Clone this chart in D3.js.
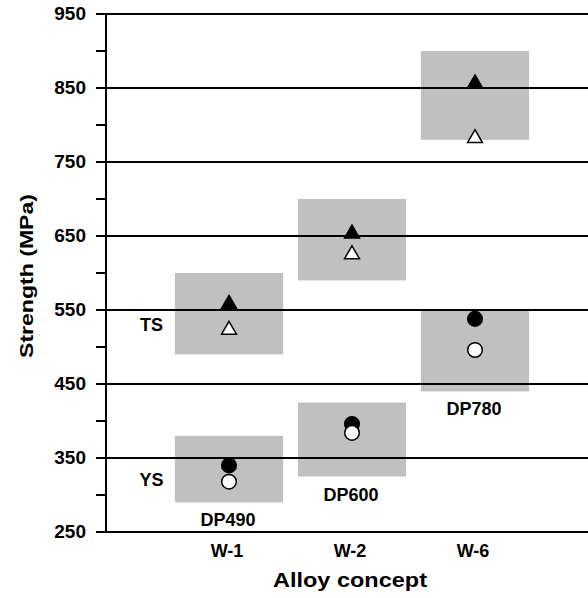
<!DOCTYPE html>
<html>
<head>
<meta charset="utf-8">
<style>
body { margin: 0; background: #fff; }
text { font-family: "Liberation Sans", Arial, sans-serif; font-weight: bold; fill: #000; }
line { shape-rendering: crispEdges; }
</style>
</head>
<body>
<div id="graphic"></div>
<script src="https://cdn.jsdelivr.net/npm/d3@7"></script>
<script>
var alloys = ["W-1", "W-2", "W-6"];
var grades = ["DP490", "DP600", "DP780"];
// grade windows (MPa)
var ysMin = [290, 325, 440];
var ysMax = [380, 425, 550];
var tsMin = [490, 590, 780];
var tsMax = [600, 700, 900];
// measured values
var tsFilled = [561, 656, 859];
var tsOpen = [526, 628, 785];
var ysFilled = [340, 396, 538];
var ysOpen = [318, 384, 496];
var yTicks = [250, 350, 450, 550, 650, 750, 850, 950];
var gridVals = [350, 450, 550, 650, 750, 850, 950];

var width = 588, height = 598;

var svg = d3.select("#graphic").append("svg")
	.attr("width", width)
	.attr("height", height);

var x = d3.scaleLinear().domain([0, 4]).range([106, 598]);
var y = d3.scaleLinear().domain([250, 950]).range([532, 14]);

var boxHalf = 0.44;

function boxes(mins, maxs) {
	svg.append("g").selectAll("rect")
		.data(alloys)
		.enter().append("rect")
		.attr("x", function(d, i) { return x(i + 1 - boxHalf); })
		.attr("width", x(1 + boxHalf) - x(1 - boxHalf))
		.attr("y", function(d, i) { return y(maxs[i]); })
		.attr("height", function(d, i) { return y(mins[i]) - y(maxs[i]); })
		.attr("fill", "#c0c0c0");
}
boxes(ysMin, ysMax);
boxes(tsMin, tsMax);

// gridlines
svg.append("g").selectAll("line")
	.data(gridVals)
	.enter().append("line")
	.attr("x1", x(0)).attr("x2", width)
	.attr("y1", function(d) { return Math.round(y(d)); })
	.attr("y2", function(d) { return Math.round(y(d)); })
	.attr("stroke", "#000")
	.attr("stroke-width", 2);

// y axis
var yAxis = d3.axisLeft(y)
	.tickValues(d3.range(250, 951, 50))
	.tickSize(10)
	.tickFormat(function(d) { return yTicks.indexOf(d) >= 0 ? d : ""; });

var ya = svg.append("g")
	.attr("transform", "translate(" + x(0) + ",0)")
	.call(yAxis);
ya.select(".domain").remove();
ya.selectAll(".tick").attr("transform", function(d) { return "translate(0," + Math.round(y(d)) + ")"; });
ya.selectAll(".tick line").attr("stroke", "#000").attr("stroke-width", 2);
ya.selectAll(".tick text")
	.attr("x", -20)
	.style("font-size", "19px")
	.style("font-family", "Liberation Sans, Arial, sans-serif")
	.style("font-weight", "bold");

svg.append("line")
	.attr("x1", x(0)).attr("x2", x(0))
	.attr("y1", y(950) - 1).attr("y2", y(250) + 1)
	.attr("stroke", "#000").attr("stroke-width", 2);

svg.append("line")
	.attr("x1", x(0) - 10).attr("x2", width)
	.attr("y1", Math.round(y(250))).attr("y2", Math.round(y(250)))
	.attr("stroke", "#000").attr("stroke-width", 2);

// markers
var tri = d3.symbol().type(d3.symbolTriangle).size(96);
var triShift = Math.sqrt(96 / (Math.sqrt(3) * 3)) / 2;

function triangles(vals, fill) {
	svg.append("g").selectAll("path")
		.data(vals)
		.enter().append("path")
		.attr("d", tri)
		.attr("transform", function(d, i) { return "translate(" + x(i + 1) + "," + (y(d) + triShift) + ")"; })
		.attr("fill", fill)
		.attr("stroke", "#000")
		.attr("stroke-width", 1.5);
}

function circles(vals, fill) {
	svg.append("g").selectAll("circle")
		.data(vals)
		.enter().append("circle")
		.attr("cx", function(d, i) { return x(i + 1); })
		.attr("cy", function(d) { return y(d); })
		.attr("r", 7.3)
		.attr("fill", fill)
		.attr("stroke", "#000")
		.attr("stroke-width", 1.5);
}

triangles(tsOpen, "#fff");
triangles(tsFilled, "#000");
circles(ysFilled, "#000");
circles(ysOpen, "#fff");

// grade labels under each box
svg.append("g").selectAll("text")
	.data(grades)
	.enter().append("text")
	.attr("x", function(d, i) { return x(i + 1) - 1; })
	.attr("y", function(d, i) { return y(ysMin[i]) + 24; })
	.attr("text-anchor", "middle")
	.style("font-size", "18px")
	.text(function(d) { return d; });

svg.append("text")
	.attr("x", x(0.37)).attr("y", y(522))
	.attr("text-anchor", "middle")
	.style("font-size", "18px")
	.text("TS");

svg.append("text")
	.attr("x", x(0.37)).attr("y", y(312))
	.attr("text-anchor", "middle")
	.style("font-size", "18px")
	.text("YS");

// category labels
svg.append("g").selectAll("text")
	.data(alloys)
	.enter().append("text")
	.attr("x", function(d, i) { return x(i + 1) - 2; })
	.attr("y", 557)
	.attr("text-anchor", "middle")
	.style("font-size", "18px")
	.text(function(d) { return d; });

svg.append("text")
	.attr("x", 350).attr("y", 587)
	.attr("text-anchor", "middle")
	.attr("textLength", 154)
	.attr("lengthAdjust", "spacingAndGlyphs")
	.style("font-size", "20px")
	.text("Alloy concept");

svg.append("text")
	.attr("transform", "translate(33,276) rotate(-90)")
	.attr("text-anchor", "middle")
	.attr("textLength", 164)
	.attr("lengthAdjust", "spacingAndGlyphs")
	.style("font-size", "19px")
	.text("Strength (MPa)");
</script>
</body>
</html>
